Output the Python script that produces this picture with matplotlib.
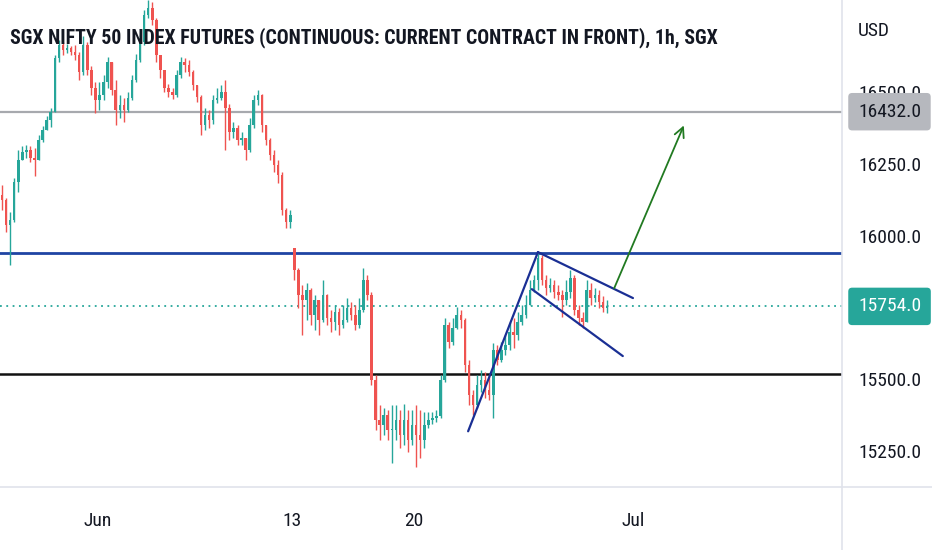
import numpy as np
import matplotlib
matplotlib.use("Agg")
import matplotlib.pyplot as plt
from matplotlib import font_manager

# 1h SGX Nifty candles, resampled to 6 candles per trading day (May 26 .. Jun 30)
first_open = 16142
gap_opens = {72: 15957}  # Jun 13 opened with a gap down

closes = [
    16125, 16038, 16055, 16187, 16264, 16292,
    16299, 16271, 16264, 16334, 16368, 16403,
    16431, 16619, 16665, 16647, 16654, 16640,
    16630, 16571, 16665, 16578, 16515, 16473,
    16490, 16536, 16605, 16508, 16438, 16456,
    16438, 16480, 16543, 16612, 16675, 16769,
    16794, 16752, 16630, 16578, 16515, 16501,
    16490, 16560, 16605, 16595, 16571, 16525,
    16483, 16386, 16421, 16403, 16473, 16480,
    16501, 16445, 16361, 16375, 16334, 16341,
    16299, 16386, 16473, 16490, 16386, 16334,
    16281, 16247, 16212, 16090, 16048, 16072,
    15881, 15794, 15776, 15811, 15724, 15776,
    15706, 15794, 15714, 15700, 15734, 15689,
    15706, 15748, 15724, 15689, 15741, 15846,
    15794, 15497, 15358, 15341, 15375, 15323,
    15323, 15358, 15306, 15358, 15288, 15341,
    15306, 15288, 15341, 15358, 15365, 15372,
    15497, 15689, 15630, 15679, 15724, 15706,
    15550, 15445, 15410, 15480, 15497, 15463,
    15445, 15602, 15567, 15602, 15619, 15665,
    15654, 15700, 15724, 15759, 15811, 15846,
    15922, 15846, 15818, 15828, 15804, 15794,
    15776, 15804, 15853, 15741, 15714, 15700,
    15811, 15783, 15794, 15769, 15748, 15754,
]
highs = [
    16177, 16132, 16083, 16201, 16299, 16313,
    16316, 16313, 16306, 16351, 16382, 16417,
    16445, 16630, 16682, 16675, 16668, 16661,
    16665, 16640, 16696, 16675, 16591, 16536,
    16536, 16560, 16623, 16605, 16543, 16490,
    16480, 16501, 16560, 16633, 16699, 16787,
    16821, 16814, 16759, 16630, 16578, 16529,
    16515, 16578, 16623, 16619, 16612, 16578,
    16525, 16490, 16445, 16438, 16490, 16515,
    16525, 16543, 16459, 16396, 16386, 16361,
    16341, 16410, 16490, 16508, 16495, 16386,
    16341, 16299, 16264, 16222, 16097, 16090,
    15957, 15888, 15828, 15835, 15818, 15794,
    15776, 15846, 15797, 15741, 15759, 15748,
    15759, 15783, 15769, 15759, 15783, 15888,
    15863, 15804, 15515, 15410, 15400, 15393,
    15410, 15410, 15393, 15414, 15393, 15393,
    15410, 15393, 15386, 15386, 15386, 15393,
    15515, 15714, 15700, 15714, 15752, 15741,
    15714, 15567, 15463, 15515, 15532, 15525,
    15515, 15626, 15619, 15630, 15654, 15700,
    15714, 15734, 15759, 15794, 15846, 15863,
    15943, 15933, 15863, 15853, 15846, 15828,
    15811, 15846, 15881, 15863, 15759, 15734,
    15846, 15835, 15818, 15811, 15790, 15776,
]
lows = [
    16090, 16013, 15898, 16048, 16152, 16264,
    16271, 16257, 16208, 16264, 16327, 16368,
    16379, 16431, 16605, 16630, 16637, 16630,
    16612, 16543, 16560, 16560, 16490, 16428,
    16438, 16473, 16515, 16490, 16386, 16410,
    16396, 16431, 16473, 16536, 16605, 16665,
    16759, 16734, 16605, 16550, 16501, 16483,
    16476, 16483, 16550, 16571, 16557, 16508,
    16466, 16351, 16368, 16375, 16389, 16463,
    16473, 16299, 16334, 16341, 16316, 16316,
    16264, 16292, 16375, 16456, 16361, 16316,
    16264, 16222, 16184, 16072, 16027, 16027,
    15846, 15748, 15654, 15706, 15689, 15672,
    15654, 15700, 15689, 15665, 15672, 15654,
    15679, 15700, 15706, 15672, 15679, 15734,
    15776, 15480, 15323, 15288, 15306, 15288,
    15208, 15288, 15261, 15271, 15247, 15271,
    15194, 15226, 15261, 15330, 15344, 15351,
    15365, 15490, 15609, 15619, 15675, 15679,
    15525, 15410, 15375, 15400, 15456, 15435,
    15428, 15365, 15550, 15560, 15585, 15602,
    15609, 15637, 15689, 15714, 15759, 15804,
    15811, 15828, 15794, 15804, 15783, 15776,
    15717, 15759, 15783, 15724, 15689, 15679,
    15700, 15759, 15769, 15748, 15734, 15731,
]

bars_per_day = 6
tick_days = [4, 12, 17, 26]
tick_labels = ["Jun", "13", "20", "Jul"]
# 15750 sits under the last-price label, so TradingView leaves it out
price_ticks = [15250, 15500, 16000, 16250, 16500]

last_price = 15754
gray_level = 16432
blue_level = 15940
black_level = 15520

# drawings: (bar, price) pairs
rising_line = [(115.3, 15319), (132.5, 15943)]
flag_top = [(132.5, 15943), (155.9, 15783)]
flag_bottom = [(131.0, 15814), (153.4, 15581)]
target_arrow = [(151.0, 15808), (168.7, 16393)]

UP = "#26a69a"
DOWN = "#ef5350"
TEXT = "#131722"
SEP = "#e0e3eb"


def pick_font(names):
    avail = {f.name for f in font_manager.fontManager.ttflist}
    for n in names:
        if n in avail:
            return n
    return "DejaVu Sans"


narrow = pick_font(["Liberation Sans Narrow", "Roboto Condensed", "Open Sans Condensed",
                    "Liberation Sans"])
plt.rcParams["font.family"] = [narrow, "DejaVu Sans"]

W, H = 932, 550
fig = plt.figure(figsize=(W / 100, H / 100), dpi=100)
ax = fig.add_axes([0, 63 / H, 842 / W, 487 / H])

closes = np.array(closes, dtype=float)
highs = np.array(highs, dtype=float)
lows = np.array(lows, dtype=float)
opens = np.concatenate([[first_open], closes[:-1]])
for k, v in gap_opens.items():
    opens[k] = v
highs = np.maximum(highs, np.maximum(opens, closes))
lows = np.minimum(lows, np.minimum(opens, closes))

x = np.arange(len(closes)) + 0.5
colors = np.where(closes >= opens, UP, DOWN)
ax.vlines(x, lows, highs, colors=colors, linewidth=1.0, zorder=3)
body = np.where(np.abs(closes - opens) < 4, 4, closes - opens)
ax.bar(x, body, bottom=opens, width=0.62, color=colors, linewidth=0, zorder=3)

# horizontal levels
ax.axhline(gray_level, color="#a7a9ae", linewidth=1.6, zorder=2)
ax.axhline(blue_level, color="#1f44a3", linewidth=2.0, zorder=2)
ax.axhline(black_level, color="#111111", linewidth=1.8, zorder=2)
ax.axhline(last_price, color=UP, linewidth=1.3, linestyle=(0, (1, 2.5)), zorder=2)

# flag drawing
for seg in (rising_line, flag_top, flag_bottom):
    (x0, y0), (x1, y1) = seg
    ax.plot([x0, x1], [y0, y1], color="#1a2f94", linewidth=1.6, zorder=4,
            solid_capstyle="round")
(x0, y0), (x1, y1) = target_arrow
ax.annotate("", xy=(x1, y1), xytext=(x0, y0),
            arrowprops=dict(arrowstyle="->,head_length=0.7,head_width=0.35",
                            color="#217a21", linewidth=1.3), zorder=4)

ax.set_xlim(0, 842 / 4.06)
ax.set_ylim(15125, 16821)

ax.set_xticks([d * bars_per_day for d in tick_days])
ax.set_xticklabels(tick_labels)
ax.tick_params(axis="x", length=0, pad=18, labelsize=14, labelcolor=TEXT)

ax.yaxis.tick_right()
ax.set_yticks(price_ticks)
ax.set_yticklabels([f"{p:.1f}" for p in price_ticks])
ax.tick_params(axis="y", length=0, pad=11.5, labelsize=14, labelcolor=TEXT)
for s in ax.spines.values():
    s.set_visible(False)

# price labels on the axis
for price, fc, tc in ((gray_level, "#b6b8be", TEXT), (last_price, UP, "white")):
    ax.annotate(f"{price:.1f}", xy=(1.0, price), xycoords=("axes fraction", "data"),
                xytext=(11.5, 0), textcoords="offset points", ha="left", va="center",
                fontsize=14, color=tc, annotation_clip=False, zorder=10,
                bbox=dict(boxstyle="round,pad=0.5,rounding_size=0.2", fc=fc, ec="none"))

fig.text(858 / W, 1 - 31 / H, "USD", ha="left", va="center", fontsize=14, color=TEXT)

# separators
fig.add_artist(plt.Line2D([842 / W, 842 / W], [0, 1], color=SEP, linewidth=1.2))
fig.add_artist(plt.Line2D([0, 1], [63 / H, 63 / H], color=SEP, linewidth=1.2))

title = fig.text(10 / W, 1 - 38 / H,
                 "SGX NIFTY 50 INDEX FUTURES (CONTINUOUS: CURRENT CONTRACT IN FRONT), 1h, SGX",
                 ha="left", va="center", fontsize=13, fontweight="bold", color=TEXT, zorder=20)
fig.canvas.draw()
tw = title.get_window_extent().width
title.set_fontsize(13 * 705 / tw)

fig.savefig("out.png", dpi=100, facecolor="white")
